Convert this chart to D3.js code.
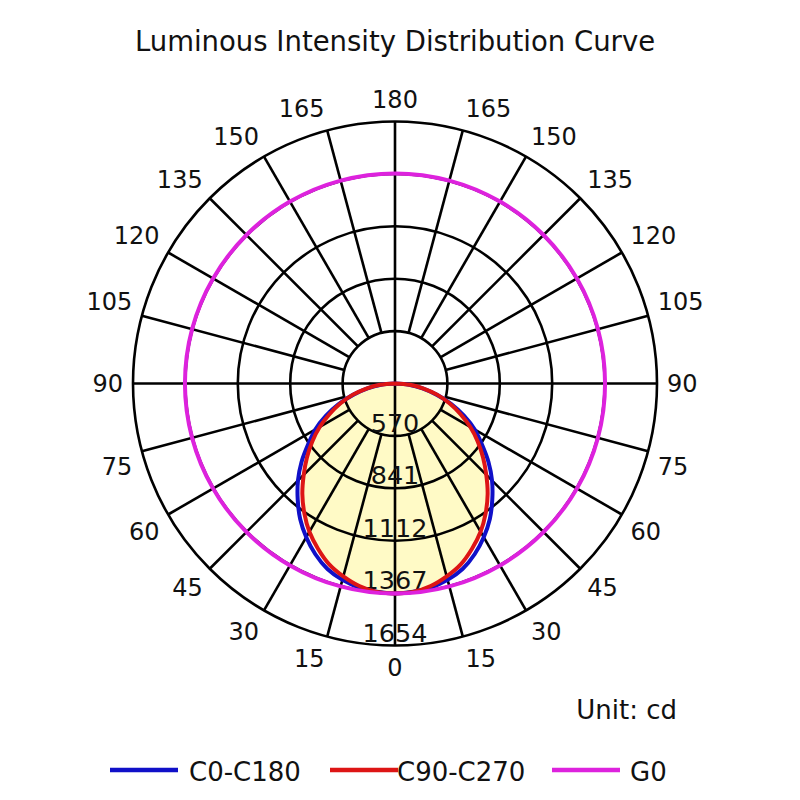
<!DOCTYPE html>
<html>
<head>
<meta charset="utf-8">
<script src="https://cdn.jsdelivr.net/npm/d3@7"></script>
<style>
  body { margin: 0; background: #fff; }
  text { font-family: "DejaVu Sans", Verdana, sans-serif; fill: #111; }
</style>
</head>
<body>
<div id="chart"></div>
<script>
"use strict";

// Gamma angles (deg from nadir) for the C-plane curves
const gammaAngles = [0, 5, 10, 15, 20, 25, 30, 35, 40, 45, 50, 55, 60, 65, 70, 75, 80, 85, 90];
// C0-C180 intensities (cd), same on both halves
const c0c180 = [1367, 1361, 1348, 1323, 1285, 1226, 1155, 1076, 985, 893, 794, 690, 599, 495, 390, 280, 182, 91, 0];
// C90-C270 intensities (cd)
const c90c270 = [1367, 1361, 1338, 1299, 1252, 1186, 1114, 1029, 938, 840, 748, 657, 566, 469, 377, 286, 189, 98, 0];
// G0 cone, all around
const g0Angles = [0, 15, 30, 45, 60, 75, 90, 105, 120, 135, 150, 165, 180, 195, 210, 225, 240, 255, 270, 285, 300, 315, 330, 345];
const g0Values = [1367, 1367, 1367, 1367, 1367, 1367, 1367, 1367, 1367, 1367, 1367, 1367, 1367, 1367, 1367, 1367, 1367, 1367, 1367, 1367, 1367, 1367, 1367, 1367];

// Grid rings and their labels
const ringLevels = [341, 682, 1023, 1364, 1705];
const ringLabels = ["570", "841", "1112", "1367", "1654"];
// Angle tick labels
const tickAngles = [0, 15, 30, 45, 60, 75, 90, 105, 120, 135, 150, 165, 180];

const seriesNames = ["C0-C180", "C90-C270", "G0"];
const seriesColors = ["#1010c8", "#dd1515", "#dd22dd"];

const width = 800, height = 800;
const cx = 395, cy = 383.5;
const R = 262;

let svg = d3.select("#chart").append("svg")
  .attr("width", width)
  .attr("height", height);

svg.append("rect")
  .attr("width", width)
  .attr("height", height)
  .style("fill", "#fff");

// Title
svg.append("text")
  .attr("x", cx)
  .attr("y", 51)
  .attr("text-anchor", "middle")
  .attr("font-size", "27.5px")
  .text("Luminous Intensity Distribution Curve");

let r = d3.scaleLinear().domain([0, 1705]).range([0, R]);
let rad = deg => deg * Math.PI / 180;

let g = svg.append("g").attr("transform", "translate(" + cx + "," + cy + ")");

// radial line: gamma measured from the bottom, side = +1 right, -1 left
let line = d3.lineRadial()
  .angle(d => Math.PI - d.side * rad(d.a))
  .radius(d => r(d.v))
  .curve(d3.curveCatmullRom);

function halfPlane(values) {
  let pts = [];
  // left half, from 90 down to 0
  for (let i = gammaAngles.length - 1; i > 0; i--) pts.push({a: gammaAngles[i], v: values[i], side: -1});
  // right half, from 0 up to 90
  for (let i = 0; i < gammaAngles.length; i++) pts.push({a: gammaAngles[i], v: values[i], side: 1});
  return pts;
}

// Pale fill under the C90-C270 curve
g.append("path")
  .attr("d", line(halfPlane(c90c270)) + "Z")
  .style("fill", "#fffac6")
  .style("stroke", "none");

// Grid: rings
let grid = g.append("g")
  .style("stroke", "#000")
  .style("stroke-width", 2.6)
  .style("fill", "none");

grid.selectAll("circle")
  .data(ringLevels)
  .join("circle")
  .attr("r", d => r(d));

// Grid: spokes every 15 degrees, starting at the first ring
let spokes = d3.range(0, 360, 15);
grid.selectAll("line")
  .data(spokes)
  .join("line")
  .attr("x1", d => (d % 90 === 0 ? 0 : r(ringLevels[0])) * Math.sin(rad(d)))
  .attr("y1", d => (d % 90 === 0 ? 0 : r(ringLevels[0])) * Math.cos(rad(d)))
  .attr("x2", d => R * Math.sin(rad(d)))
  .attr("y2", d => R * Math.cos(rad(d)));

// Ring labels along the nadir line
g.selectAll("text.ring")
  .data(ringLevels)
  .join("text")
  .attr("class", "ring")
  .attr("x", 0)
  .attr("y", d => r(d) - 4)
  .attr("text-anchor", "middle")
  .attr("font-size", "25.5px")
  .text((d, i) => ringLabels[i]);

// Angle labels on both sides
let tickData = [];
tickAngles.forEach(a => {
  tickData.push({a: a, side: 1});
  if (a !== 0 && a !== 180) tickData.push({a: a, side: -1});
});

let fs = 24;
g.selectAll("text.tick")
  .data(tickData)
  .join("text")
  .attr("class", "tick")
  .attr("font-size", fs + "px")
  .attr("text-anchor", "middle")
  .attr("dy", "0.36em")
  .text(d => d.a)
  .each(function(d) {
    // label box corner sits on a circle just outside the grid
    let w = this.getComputedTextLength();
    let s = Math.sin(rad(d.a)), c = Math.cos(rad(d.a));
    let x = s * (R + 10) + (s > 0.01 ? w / 2 : 0);
    let y = c * (R + 10) + (Math.abs(c) > 0.01 ? Math.sign(c) * 12 : 0);
    d3.select(this)
      .attr("x", d.side * x)
      .attr("y", y);
  });

// Curves
let curves = g.append("g").style("fill", "none").style("stroke-width", 4);

curves.append("path")
  .attr("d", line(halfPlane(c0c180)))
  .style("stroke", seriesColors[0]);

curves.append("path")
  .attr("d", line(halfPlane(c90c270)))
  .style("stroke", seriesColors[1]);

let g0Line = d3.lineRadial()
  .angle(d => rad(d.a))
  .radius(d => r(d.v))
  .curve(d3.curveCatmullRomClosed);

curves.append("path")
  .attr("d", g0Line(g0Angles.map((a, i) => ({a: a, v: g0Values[i]}))))
  .style("stroke", seriesColors[2]);

// Unit note
svg.append("text")
  .attr("x", 677)
  .attr("y", 719)
  .attr("text-anchor", "end")
  .attr("font-size", "26px")
  .text("Unit: cd");

// Legend
const legendX = [110, 330, 552];
const legendTextX = [189, 397, 630];
let leg = svg.append("g");
seriesNames.forEach(function(name, i) {
  leg.append("line")
    .attr("x1", legendX[i])
    .attr("x2", legendX[i] + 68)
    .attr("y1", 770)
    .attr("y2", 770)
    .style("stroke", seriesColors[i])
    .style("stroke-width", 4.5);

  leg.append("text")
    .attr("x", legendTextX[i])
    .attr("y", 781)
    .attr("font-size", "26px")
    .text(name);
});
</script>
</body>
</html>
